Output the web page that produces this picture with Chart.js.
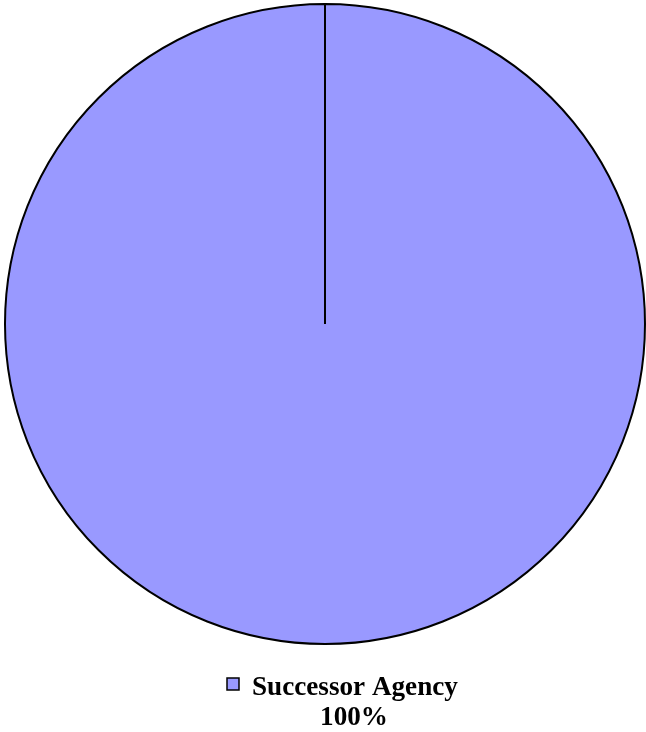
<!DOCTYPE html>
<html>
<head>
<meta charset="utf-8">
<script src="https://cdn.jsdelivr.net/npm/chart.js@4.4.0/dist/chart.umd.min.js"></script>
<style>
	html, body { margin: 0; padding: 0; background: #ffffff; }
	#box { width: 646px; height: 732px; }
</style>
</head>
<body>
<div id="box"><canvas id="grafico"></canvas></div>
<script>
var categorias = ["Successor Agency"];
var valores = [100];
var etiquetas = ["100%"];
var colores = ["#9999ff"];

// leyenda dibujada a mano bajo el circulo
var leyendaAbajo = {
	id: 'leyendaAbajo',
	afterDraw: function(chart)
	{
		var ctx = chart.ctx;
		ctx.save();
		var tam = 26;
		ctx.font = "bold " + tam + "px 'Liberation Serif'";
		var ancho = ctx.measureText(categorias[0]).width;
		tam = tam * 206 / ancho;
		ctx.font = "bold " + tam + "px 'Liberation Serif'";
		ctx.fillStyle = "#000000";
		ctx.textBaseline = "alphabetic";
		ctx.textAlign = "left";
		ctx.fillText(categorias[0], 252, 695);

		ctx.fillStyle = colores[0];
		ctx.fillRect(227, 678, 12, 12);
		ctx.strokeStyle = "#000000";
		ctx.lineWidth = 1.5;
		ctx.strokeRect(227, 678, 12, 12);

		ctx.fillStyle = "#000000";
		ctx.textAlign = "center";
		ctx.fillText(etiquetas[0], 354, 725);
		ctx.restore();
	}
};

var ctx = document.getElementById("grafico");
var myChart = new Chart(ctx, {
	type: 'pie',
	data: {
		labels: categorias,
		datasets: [{
			data: valores,
			backgroundColor: colores,
			borderColor: "#000000",
			borderWidth: 2
		}]
	},
	options: {
		responsive: true,
		maintainAspectRatio: false,
		animation: false,
		layout: { padding: { left: 4, right: 0, top: 3, bottom: 87 } },
		plugins: {
			legend: { display: false },
			tooltip: { enabled: false }
		}
	},
	plugins: [leyendaAbajo]
});
</script>
</body>
</html>
